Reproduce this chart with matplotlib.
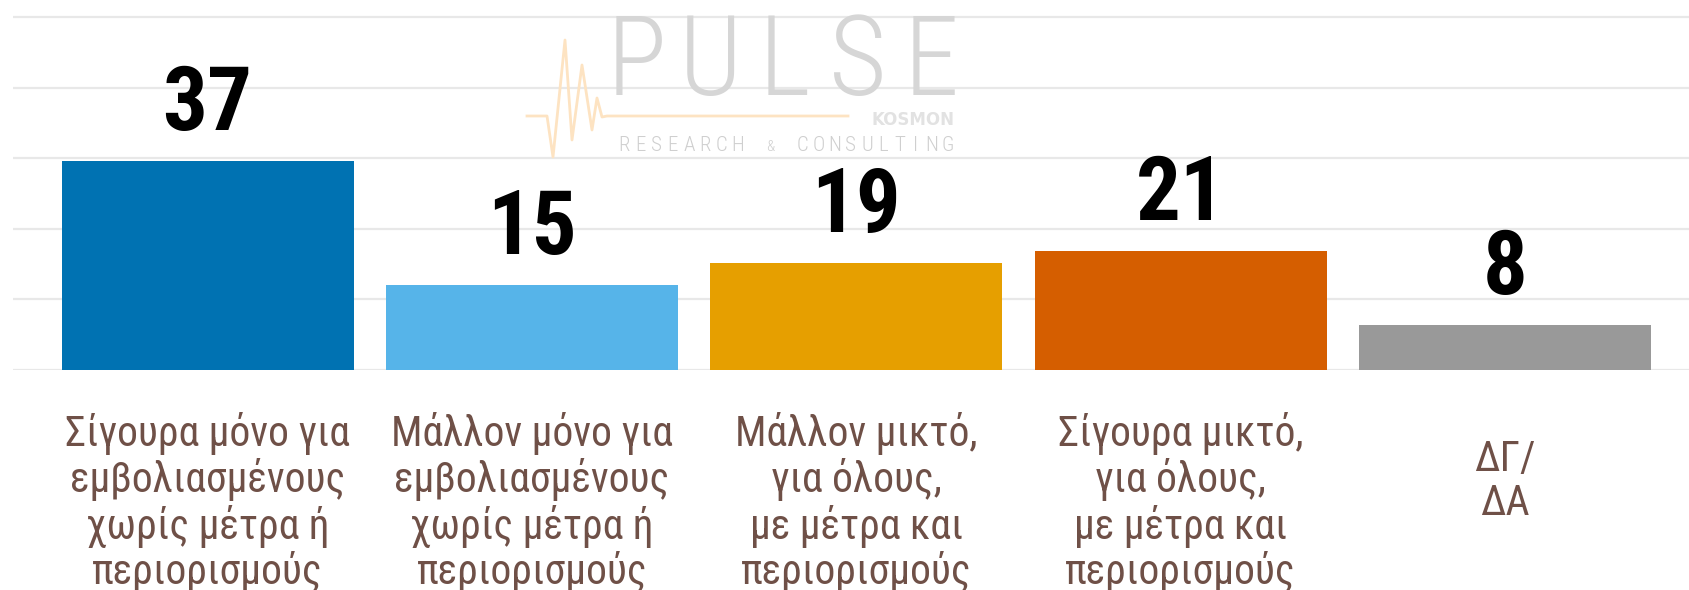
import matplotlib
matplotlib.use("Agg")
import matplotlib.pyplot as plt
from matplotlib import font_manager as fm
import numpy as np

# ---- data ----
categories = [
    "Σίγουρα μόνο για\nεμβολιασμένους\nχωρίς μέτρα ή\nπεριορισμούς",
    "Μάλλον μόνο για\nεμβολιασμένους\nχωρίς μέτρα ή\nπεριορισμούς",
    "Μάλλον μικτό,\nγια όλους,\nμε μέτρα και\nπεριορισμούς",
    "Σίγουρα μικτό,\nγια όλους,\nμε μέτρα και\nπεριορισμούς",
    "ΔΓ/\nΔΑ",
]
values = [37, 15, 19, 21, 8]
bar_colors = ["#0072b2", "#56b4e9", "#e69f00", "#d55e00", "#999999"]

W, H = 1690, 590
DPI = 100

# pick a condensed font if present
names = {f.name for f in fm.fontManager.ttflist}
cond = None
for cand in ["Roboto Condensed", "Liberation Sans Narrow", "DejaVu Sans Condensed"]:
    if cand in names:
        cond = cand
        break
if cond is None:
    cond_kw = dict(family="DejaVu Sans", fontstretch="condensed")
else:
    cond_kw = dict(family=cond)

fig = plt.figure(figsize=(W / DPI, H / DPI), dpi=DPI)
fig.patch.set_facecolor("white")
ax = fig.add_axes([13 / W, 220 / H, (W - 13) / W, 370 / H])

x = np.arange(len(values))
ax.bar(x, values, width=0.9, color=bar_colors, zorder=2)
ax.set_xlim(-0.6, 4.57)
ax.set_ylim(0, 65.5)
ax.set_yticks(np.arange(0, 63, 12.5))
ax.yaxis.grid(True, color="#e8e8e8", linewidth=1.6, zorder=0)
ax.set_axisbelow(True)
ax.tick_params(left=False, bottom=False, labelleft=False, labelbottom=False)
for s in ax.spines.values():
    s.set_visible(False)

# value labels
for xi, v in zip(x, values):
    ax.annotate(str(v), (xi, v), xytext=(0, 31), textcoords="offset pixels",
                ha="center", va="baseline", fontsize=64, fontweight="bold",
                color="black", **cond_kw)

# category labels
label_color = "#6f5047"
blend = matplotlib.transforms.blended_transform_factory(ax.transData, fig.transFigure)
for xi, lab in zip(x, categories):
    nlines = lab.count("\n") + 1
    top_px = 412 if nlines > 2 else 439
    ax.text(xi, 1 - top_px / H, lab, transform=blend,
            ha="center", va="top", fontsize=30, color=label_color,
            linespacing=1.1, multialignment="center", **cond_kw)

# ---- watermark (decorative) ----
def fx(px):
    return px / W

def fy(py):
    return 1 - py / H

wm_gray = "#d6d6d6"
for i, ch in enumerate("PULSE"):
    fig.text(fx(637 + 73.5 * i), fy(95), ch, ha="center", va="baseline",
             fontsize=80, fontweight="light", color=wm_gray, **cond_kw)
fig.text(fx(955), fy(125), "KOSMON", ha="right", va="baseline",
         fontsize=12, fontweight="bold", color="#e2e2e2")
rc = "RESEARCH & CONSULTING"
cx = np.linspace(624, 948, len(rc))
for c, ch in zip(cx, rc):
    fig.text(fx(c), fy(151), ch, ha="center", va="baseline",
             fontsize=15 if ch != "&" else 11, fontweight="light",
             color="#cfcfcf", **cond_kw)
ecg_x = [527, 547, 553, 565, 572, 582, 592, 597, 602, 607, 848]
ecg_y = [116, 116, 157, 40, 140, 65, 130, 98, 117, 116, 116]
fig.add_artist(matplotlib.lines.Line2D([fx(v) for v in ecg_x], [fy(v) for v in ecg_y],
                                       color="#fde3c2", linewidth=2, transform=fig.transFigure))

fig.savefig("out.png", dpi=DPI, facecolor="white")
